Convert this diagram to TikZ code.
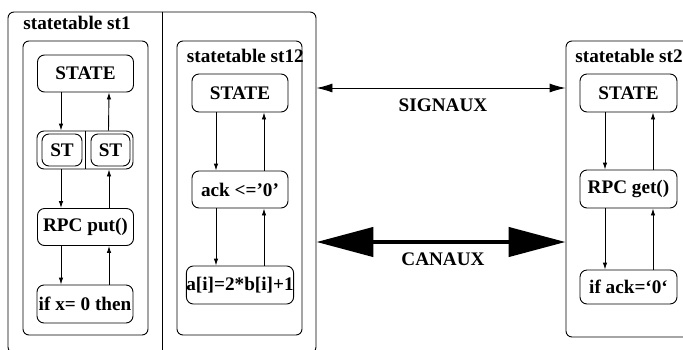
\documentclass[tikz,border=0pt]{standalone}
\usepackage{fontspec}
\setmainfont{Liberation Serif}
\usetikzlibrary{arrows.meta}

\begin{document}
\begin{tikzpicture}[x=1pt,y=-1pt,line width=0.9pt,
  every node/.style={font=\fontsize{19.2}{21}\selectfont\bfseries},
  frame/.style={draw,rounded corners=6pt,inner sep=0pt},
  box/.style={draw,rounded corners=7pt,minimum width=96pt,minimum height=37pt,inner sep=0pt},
  stbox/.style={draw,rounded corners=7pt,minimum width=39pt,minimum height=32pt,inner sep=0pt},
  title/.style={anchor=base west,inner sep=0pt},
  trans/.style={-{Latex[length=7pt,width=4.5pt]}},
  sig/.style={{Latex[length=16pt,width=9pt]}-{Latex[length=16pt,width=9pt]}},
  can/.style={line width=4.5pt,{Triangle[length=57pt,width=29pt]}-{Triangle[length=57pt,width=29pt]}}]
  \clip (0,0) rectangle (683,349);
  \useasboundingbox (0,0) rectangle (683,349);

  % outer block with st1 and st12
  \node[frame,minimum width=308pt,minimum height=341pt] (outer) at (162,182.5) {};
  \draw (outer.north) -- (outer.south);
  \node[title] (t1) at (23,29.5) {statetable st1};

  % statetable st1
  \begin{scope}
   \node[frame,minimum width=125pt,minimum height=294pt] (st1) at (85.5,188) {};
   \node[box] (s1a) at (85.5,73.5) {STATE};
   \node[box,minimum height=38pt] (s1b) at (85,150) {};
   \draw (s1b.north) -- (s1b.south);
   \node[stbox,minimum width=40pt] (s1bl) at (62,150) {ST};
   \node[stbox] (s1br) at (110.5,150) {ST};
   \node[box] (s1c) at (85.5,227) {RPC put()};
   \node[box,minimum height=38pt] (s1d) at (85,304) {if x= 0 then};
   \draw[trans] ([xshift=-24.5pt]s1a.south) -- ([xshift=-24pt]s1b.north);
   \draw[trans] ([xshift=23.5pt]s1b.north) -- ([xshift=23.5pt]s1a.south);
   \draw[trans] ([xshift=-24pt]s1b.south) -- ([xshift=-24.5pt]s1c.north);
   \draw[trans] ([xshift=23.5pt]s1c.north) -- ([xshift=24pt]s1b.south);
   \draw[trans] ([xshift=-24.5pt]s1c.south) -- ([xshift=-24pt]s1d.north);
   \draw[trans] ([xshift=24pt]s1d.north) -- ([xshift=23.5pt]s1c.south);
  \end{scope}

  % statetable st12
  \begin{scope}
   \node[frame,minimum width=125pt,minimum height=294pt] (st12) at (239.5,188) {};
   \node[title] (t12) at (186.5,62) {statetable st12};
   \node[box,minimum height=38pt] (s12a) at (240,93) {STATE};
   \node[box] (s12b) at (240,189.5) {ack <=’0’};
   \node[box,minimum height=38pt] (s12c) at (240,285) {a[i]=2*b[i]+1};
   \draw[trans] ([xshift=-24pt]s12a.south) -- ([xshift=-24pt]s12b.north);
   \draw[trans] ([xshift=24pt]s12b.north) -- ([xshift=24pt]s12a.south);
   \draw[trans] ([xshift=-24pt]s12b.south) -- ([xshift=-24pt]s12c.north);
   \draw[trans] ([xshift=24pt]s12c.north) -- ([xshift=24pt]s12b.south);
  \end{scope}

  % statetable st2
  \begin{scope}
   \node[frame,minimum width=124pt,minimum height=296pt] (st2) at (628,189) {};
   \node[title] (t2) at (575,62) {statetable st2};
   \node[box,minimum width=97pt,minimum height=38pt] (s2a) at (628.5,93) {STATE};
   \node[box,minimum width=97pt,minimum height=38pt] (s2b) at (628.5,189) {RPC get()};
   \node[box,minimum width=97pt,minimum height=34pt] (s2c) at (628.5,287) {if ack=‘0‘};
   \draw[trans] ([xshift=-23.5pt]s2a.south) -- ([xshift=-23.5pt]s2b.north);
   \draw[trans] ([xshift=24.5pt]s2b.north) -- ([xshift=24.5pt]s2a.south);
   \draw[trans] ([xshift=-23.5pt]s2b.south) -- ([xshift=-23.5pt]s2c.north);
   \draw[trans] ([xshift=24.5pt]s2c.north) -- ([xshift=24.5pt]s2b.south);
  \end{scope}

  % signals and channels
  \coordinate (sigy) at (0,88);
  \coordinate (cany) at (0,242);
  \draw[sig] (sigy -| outer.east) -- (sigy -| st2.west);
  \draw[can] (cany -| outer.east) -- (cany -| st2.west);
  \node (signaux) at (443,105) {SIGNAUX};
  \node (canaux) at (443,259) {CANAUX};
\end{tikzpicture}
\end{document}
